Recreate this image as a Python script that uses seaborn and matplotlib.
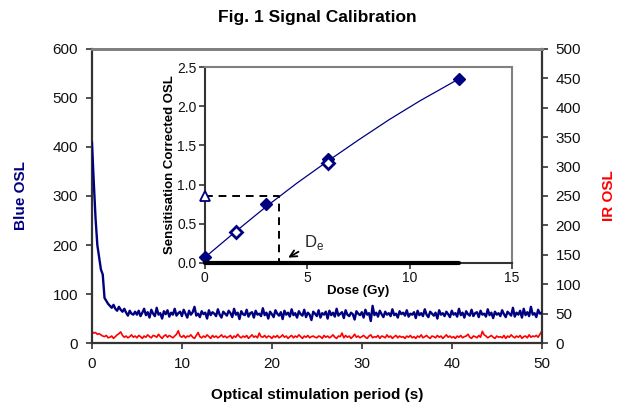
import numpy as np
import pandas as pd
import seaborn as sns
import matplotlib
matplotlib.use('Agg')
import matplotlib.pyplot as plt

# stimulation time (s), one channel every 0.2 s
time_s = np.round(np.arange(0, 50.01, 0.2), 1)

blue_osl = [
    410, 330, 255, 200, 175, 150, 140, 92, 86, 80, 76, 72, 78, 70, 66, 74, 68, 64, 70, 62, 56, 66, 60, 58, 64,
    58, 66, 55, 62, 70, 57, 63, 52, 68, 60, 55, 72, 58, 61, 50, 65, 59, 67, 54, 62, 58, 70, 56, 61, 64,
    55, 68, 60, 52, 66, 58, 63, 74, 56, 60, 53, 65, 59, 62, 50, 67, 57, 63, 60, 55, 69, 58, 52, 64, 60,
    56, 66, 61, 53, 70, 58, 62, 49, 65, 59, 57, 68, 54, 61, 63, 52, 66, 58, 60, 55, 71, 57, 62, 50, 64,
    59, 53, 67, 60, 56, 63, 49, 66, 58, 62, 54, 69, 57, 61, 52, 65, 59, 56, 68, 53, 62, 58, 47, 64, 60,
    55, 67, 52, 61, 58, 64, 50, 66, 57, 62, 54, 70, 56, 60, 63, 51, 67, 58, 55, 62, 59, 48, 65, 60, 57,
    63, 52, 68, 58, 61, 45, 76, 57, 62, 54, 66, 59, 53, 64, 58, 61, 55, 69, 57, 60, 52, 65, 59, 62, 56,
    67, 54, 60, 58, 63, 51, 66, 57, 61, 55, 69, 58, 53, 64, 60, 56, 62, 50, 67, 58, 61, 55, 64, 59, 53,
    66, 58, 61, 54, 70, 57, 62, 52, 65, 59, 56, 68, 55, 61, 63, 53, 66, 58, 60, 54, 69, 57, 62, 51, 64,
    58, 61, 55, 67, 59, 53, 64, 60, 56, 72, 54, 62, 58, 66, 52, 70, 57, 63, 55, 74, 58, 61, 53, 68, 60,
    62,
]

ir_osl = [
    20, 17, 18, 15, 16, 14, 12, 11, 13, 9, 10, 12, 8, 11, 14, 16, 19, 13, 10, 12, 9, 11, 14, 10, 12,
    9, 13, 11, 8, 12, 10, 14, 11, 9, 13, 12, 10, 15, 11, 8, 12, 14, 10, 13, 11, 9, 12, 15, 21, 12,
    10, 13, 9, 12, 11, 14, 10, 8, 13, 18, 11, 9, 12, 10, 14, 11, 8, 13, 10, 12, 9, 11, 14, 10, 12,
    9, 11, 13, 8, 12, 10, 15, 11, 9, 12, 10, 13, 8, 11, 14, 10, 12, 9, 17, 11, 10, 13, 9, 12, 11,
    8, 12, 10, 13, 9, 11, 14, 10, 12, 8, 11, 13, 9, 12, 10, 14, 11, 8, 12, 10, 13, 9, 11, 12, 10,
    9, 12, 11, 8, 13, 10, 12, 9, 11, 14, 10, 8, 12, 11, 17, 9, 13, 10, 12, 8, 11, 15, 10, 12, 9,
    11, 13, 10, 8, 12, 14, 9, 11, 10, 13, 8, 12, 11, 9, 14, 10, 12, 8, 11, 13, 9, 12, 10, 11, 8,
    12, 10, 13, 9, 11, 8, 12, 10, 14, 9, 11, 13, 10, 8, 12, 11, 9, 13, 10, 12, 8, 11, 14, 10, 12,
    9, 11, 8, 12, 10, 13, 9, 11, 12, 15, 10, 8, 12, 11, 9, 13, 10, 20, 14, 12, 9, 11, 13, 10, 8,
    12, 10, 11, 9, 13, 8, 12, 10, 14, 11, 9, 12, 10, 13, 8, 11, 12, 9, 14, 10, 12, 11, 13, 10, 15,
    20,
]

# inset: dose response
regen_dose = [0, 3, 6, 12.4]
regen_signal = [0.07, 0.75, 1.33, 2.35]
recycle_dose = [1.5, 6]
recycle_signal = [0.39, 1.27]
natural_signal = 0.85
fit_dose = [0, 1.5, 3, 4.5, 6, 7.5, 9, 10.5, 12.4]
fit_signal = [0.07, 0.40, 0.72, 1.02, 1.30, 1.57, 1.83, 2.07, 2.35]
de_dose = 3.6
de_signal = 0.86

NAVY = '#000080'
GREY = '#808080'
DARK = '#333333'

sns.set_theme(style='ticks')
plt.rcParams['font.family'] = ['Liberation Sans', 'DejaVu Sans']

df = pd.DataFrame({'t': time_s, 'blue': blue_osl, 'ir': ir_osl})

fig = plt.figure(figsize=(6.17, 4.07), dpi=100)
ax = fig.add_axes([0.149, 0.157, 0.729, 0.723])
ax2 = ax.twinx()

sns.lineplot(data=df, x='t', y='blue', ax=ax, color=NAVY, lw=1.7, zorder=3)
sns.lineplot(data=df, x='t', y='ir', ax=ax2, color='red', lw=1.2)
ax.set_zorder(ax2.get_zorder() + 1)
ax.patch.set_visible(False)

ax.set_xlim(0, 50)
ax.set_ylim(0, 600)
ax2.set_ylim(0, 500)
ax.set_xticks([0, 10, 20, 30, 40, 50])
ax.set_yticks(range(0, 601, 100))
ax2.set_yticks(range(0, 501, 50))

ax.set_xlabel('Optical stimulation period (s)', fontsize=11, fontweight='bold', labelpad=12, color='black')
ax.set_ylabel('Blue OSL', fontsize=11, fontweight='bold', color=NAVY, labelpad=18)
ax2.set_ylabel('IR OSL', fontsize=11, fontweight='bold', color='red', labelpad=15)
ax.set_title('Fig. 1 Signal Calibration', fontsize=12.5, fontweight='bold', pad=19, color='black')

for a in (ax, ax2):
    a.tick_params(labelsize=11, length=4, width=1.2, colors=DARK, labelcolor='#111111', pad=6)
    for s in a.spines.values():
        s.set_linewidth(1.6)
        s.set_color(DARK)
    a.spines['top'].set_color(GREY)
    a.spines['top'].set_linewidth(2)
ax.spines['right'].set_visible(False)
ax2.spines['left'].set_visible(False)
ax2.spines['bottom'].set_visible(False)

# inset
ins = fig.add_axes([0.332, 0.354, 0.498, 0.481])
ins.set_facecolor('white')
ins.plot(fit_dose, fit_signal, color=NAVY, lw=0.9)
ins.plot(regen_dose, regen_signal, 'D', color=NAVY, ms=6.5, ls='none', zorder=4, clip_on=False)
ins.plot(recycle_dose, recycle_signal, 'D', mfc='white', mec=NAVY, mew=2, ms=6, ls='none', zorder=4)
ins.plot([0], [natural_signal], '^', mfc='white', mec=NAVY, mew=1.3, ms=7.5, ls='none', zorder=4,
         clip_on=False)
ins.plot([0, de_dose, de_dose], [de_signal, de_signal, 0], color='black', ls=(0, (4, 3)), lw=1.4)
ins.plot([0, regen_dose[-1]], [0, 0], color='black', lw=3, clip_on=False, zorder=5)
ins.annotate('D$_\\mathregular{e}$', xy=(3.95, 0.05), xytext=(4.85, 0.2), fontsize=12,
             arrowprops=dict(arrowstyle='->', color='black', lw=1.3))

ins.set_xlim(0, 15)
ins.set_ylim(0, 2.5)
ins.set_xticks([0, 5, 10, 15])
ins.set_yticks([0, 0.5, 1.0, 1.5, 2.0, 2.5])
ins.yaxis.set_major_formatter(matplotlib.ticker.FormatStrFormatter('%.1f'))
ins.tick_params(labelsize=10, length=4, width=1.2, colors=DARK, labelcolor='#111111', pad=2)
ins.set_xlabel('Dose (Gy)', fontsize=9.5, fontweight='bold', labelpad=0, color='black')
ins.set_ylabel('Sensitisation Corrected OSL', fontsize=9.5, fontweight='bold', labelpad=1, color='black')
for name, s in ins.spines.items():
    s.set_linewidth(1.5)
    s.set_color(DARK)
ins.spines['top'].set_color(GREY)
ins.spines['right'].set_color(GREY)

fig.savefig('out.png', dpi=100)
